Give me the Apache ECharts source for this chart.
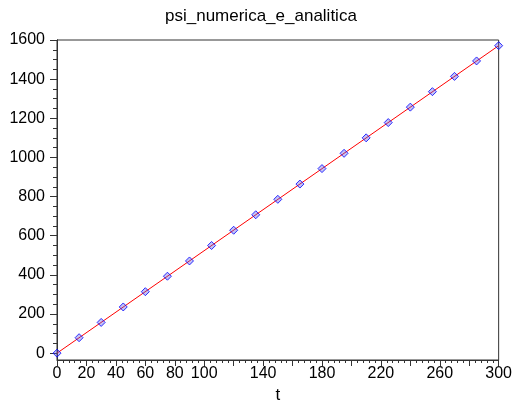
<!DOCTYPE html>
<html>
<head>
<meta charset="utf-8">
<script src="https://cdn.jsdelivr.net/npm/echarts@6/dist/echarts.min.js"></script>
<style>
  html, body { margin: 0; padding: 0; background: #fff; }
  #chart { width: 515px; height: 409px; }
</style>
</head>
<body>
<div id="chart"></div>
<script>
// valori
var tNumerica = [0, 15, 30, 45, 60, 75, 90, 105, 120, 135, 150, 165, 180, 195, 210, 225, 240, 255, 270, 285, 300];
var psiNumerica = [0, 79, 157, 236, 314, 393, 471, 550, 628, 707, 786, 864, 943, 1021, 1100, 1178, 1257, 1336, 1414, 1493, 1571];
var tAnalitica = [0, 300];
var psiAnalitica = [0, 1571];

var yTicks = [0, 200, 400, 600, 800, 1000, 1200, 1400, 1600];
var yMinorTicks = [0, 50, 100, 150, 200, 250, 300, 350, 400, 450, 500, 550, 600, 650, 700, 750, 800,
    850, 900, 950, 1000, 1050, 1100, 1150, 1200, 1250, 1300, 1350, 1400, 1450, 1500, 1550, 1600];
var xLabels = [0, 20, 40, 60, 80, 100, 140, 180, 220, 260, 300];

var font = 'Liberation Sans, Arial, sans-serif';
var axisColor = '#333';

var chart = echarts.init(document.getElementById('chart'));

var option = {
    animation: false,
    title: {
        text: 'psi_numerica_e_analitica',
        left: 160,
        top: 3,
        textStyle: { fontFamily: font, fontSize: 17, fontWeight: 'normal', color: '#000' }
    },
    grid: {
        left: 57, right: 15, top: 40, bottom: 39,
        show: true, borderColor: axisColor, borderWidth: 1
    },
    xAxis: {
        type: 'value',
        min: 0, max: 300, interval: 20,
        name: 't',
        nameLocation: 'middle',
        nameGap: 27,
        nameTextStyle: { fontFamily: font, fontSize: 17, color: '#000' },
        axisLine: { show: true, onZero: false, lineStyle: { color: axisColor, width: 1 } },
        axisTick: { show: true, length: 6, lineStyle: { color: axisColor } },
        minorTick: { show: true, splitNumber: 5, length: 3, lineStyle: { color: axisColor } },
        splitLine: { show: false },
        axisLabel: {
            fontFamily: font, fontSize: 16, color: '#000', margin: 6,
            formatter: function (v) { return xLabels.indexOf(v) >= 0 ? String(v) : ''; }
        }
    },
    yAxis: [{
        type: 'value',
        min: -35, max: 1600,
        axisLine: { show: true, onZero: false, lineStyle: { color: axisColor, width: 1 } },
        axisTick: { show: true, length: 7, customValues: yTicks, lineStyle: { color: axisColor } },
        splitLine: { show: false },
        axisLabel: {
            fontFamily: font, fontSize: 16, color: '#000', margin: 12, customValues: yTicks,
            formatter: function (v) { return String(v); }
        }
    }, {
        type: 'value',
        position: 'left',
        min: -35, max: 1600,
        axisLine: { show: true, onZero: false, lineStyle: { color: axisColor, width: 1 } },
        axisTick: { show: true, length: 4, customValues: yMinorTicks, lineStyle: { color: axisColor } },
        splitLine: { show: false },
        axisLabel: { show: true, customValues: yMinorTicks, formatter: function () { return ''; } }
    }],
    series: [{
        name: 'analitica',
        type: 'line',
        data: tAnalitica.map(function (t, i) { return [t, psiAnalitica[i]]; }),
        showSymbol: false,
        lineStyle: { color: '#ff0000', width: 1 },
        z: 2
    }, {
        name: 'numerica',
        type: 'scatter',
        data: tNumerica.map(function (t, i) { return [t, psiNumerica[i]]; }),
        symbol: 'diamond',
        symbolSize: 8,
        itemStyle: { color: 'rgba(90,90,230,0.45)', borderColor: '#0000ff', borderWidth: 1 },
        z: 3
    }]
};
chart.setOption(option);
</script>
</body>
</html>
